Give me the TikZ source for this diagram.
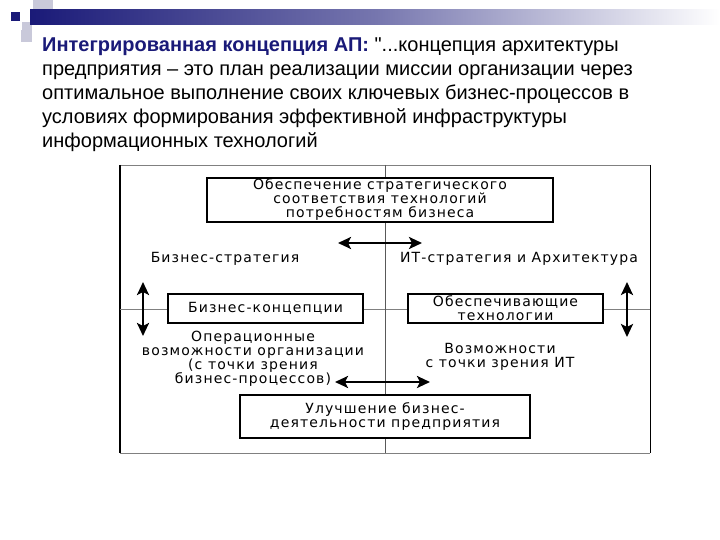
\documentclass[tikz,border=0pt]{standalone}
\usepackage{fontspec}
\setmainfont{Liberation Sans}[Ligatures=TeXOff]
\newfontfamily\schemefont[LetterSpace=8]{DejaVu Sans}
\usetikzlibrary{positioning, arrows.meta}
\definecolor{navy}{HTML}{1A1A78}
\definecolor{deco}{HTML}{C9C9DA}
\tikzset{
	x=1pt, y=-1pt,
	>={Stealth[length=13pt, width=12pt, inset=3pt]},
	block/.style={draw, line width=1.1pt, fill=white, align=center, inner sep=1pt, font=\schemefont\fontsize{14}{14}\selectfont},
	caption/.style={align=center, inner sep=1pt, font=\schemefont\fontsize{14}{14}\selectfont},
	link/.style={<->, line width=2.6pt},
	grid/.style={gray, thick}}

\begin{document}
\begin{tikzpicture}
		\useasboundingbox (0,0) rectangle (720,540);
		% slide decoration
		\fill[deco] (33,0) rectangle (53,14);
		\fill[deco] (21,30) rectangle (32,42);
		\fill[deco] (22,22) rectangle (32,30);
		\shade[left color=navy, right color=white, middle color=navy!60] (30,10) rectangle (720,25);
		\fill[navy] (11,12) rectangle (20,21);
		
		\node[anchor=north west, align=left, font=\fontsize{20}{24}\selectfont, inner sep=0] (title) at (42,38)
			{\textcolor{navy}{\bfseries Интегрированная концепция АП:} "...концепция архитектуры\\
			предприятия – это план реализации миссии организации через\\
			оптимальное выполнение своих ключевых бизнес-процессов в\\
			условиях формирования эффективной инфраструктуры\\
			информационных технологий};
		
		% frame and axes
		\draw[grid] (120,165) -- (650,165);
		\draw[grid] (120,453) -- (650,453);
		\draw[line width=1.6pt] (120,165) -- (120,453);
		\draw[thick] (650,165) -- (650,453);
		\draw[grid] (120,309) -- (650,309);
		\draw[gray!70!black, thick] (385,165) -- (385,453);
		
		\node[block, minimum width=346, minimum height=44] (fit) at (380,200)
			{Обеспечение стратегического\\соответствия технологий\\потребностям бизнеса};
		\node[caption] (bizstrat) at (225,259) {Бизнес-стратегия};
		\node[caption] (itstrat) at (519,259) {ИТ-стратегия и Архитектура};
		\node[block, minimum width=195, minimum height=29] (bizconc) at (265.5,308.5) {Бизнес-концепции};
		\node[block, minimum width=195, minimum height=29] (enabling) at (505.5,308.5) {Обеспечивающие\\технологии};
		\node[caption] (opcap) at (253,359)
			{Операционные\\возможности организации\\(с точки зрения\\бизнес-процессов)};
		\node[caption] (itcap) at (500,357) {Возможности\\с точки зрения ИТ};
		\node[block, minimum width=290, minimum height=43] (improve) at (385,416.5)
			{Улучшение бизнес-\\деятельности предприятия};
		
		\coordinate (tl) at (338,243);
		\coordinate (tr) at (422,243);
		\coordinate (bl) at (335,382);
		\coordinate (br) at (430,382);
		\coordinate (lu) at (143,282);
		\coordinate (ld) at (143,336);
		\coordinate (ru) at (627,282);
		\coordinate (rd) at (627,337);
		
		\draw[link] (tl) -- (tr);
		\draw[link] (bl) -- (br);
		\draw[link] (lu) -- (ld);
		\draw[link] (ru) -- (rd);
	\end{tikzpicture}
\end{document}
